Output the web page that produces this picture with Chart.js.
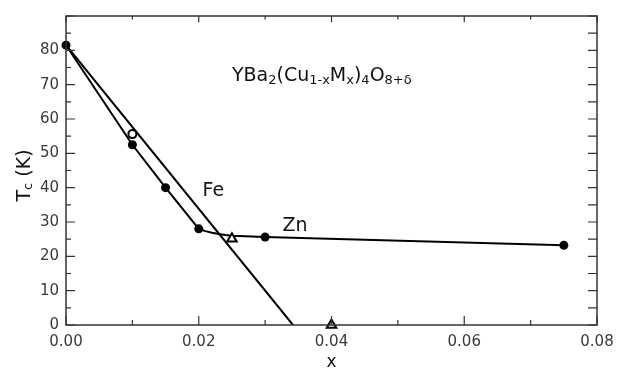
<!DOCTYPE html>
<html><head><meta charset="utf-8">
<script src="https://cdn.jsdelivr.net/npm/chart.js@4"></script>
<style>html,body{margin:0;padding:0;background:#fff}</style>
</head><body>
<canvas id="c" width="623" height="373" style="width:623px;height:373px"></canvas>
<script>
// ---- data ----
const xTickValues = [0, 0.02, 0.04, 0.06, 0.08];
const yTickValues = [0, 10, 20, 30, 40, 50, 60, 70, 80];
const filledX = [0, 0.01, 0.015, 0.02, 0.03, 0.075];
const filledY = [81.5, 52.5, 40, 28, 25.6, 23.2];
const openCircleX = [0.01];
const openCircleY = [55.6];
const triangleX = [0.025, 0.04];
const triangleY = [25.1, 0];
const feLineX = [0, 0.0342];
const feLineY = [81.5, 0];
const znLineX = [0, 0.01, 0.015, 0.02, 0.0205, 0.021, 0.022, 0.023, 0.024, 0.025, 0.03, 0.075];
const znLineY = [81.5, 52.5, 40, 28, 27.65, 27.35, 26.85, 26.5, 26.2, 26.0, 25.6, 23.2];
const seriesLabels = [{t:'Fe', x:0.0222, y:39.5}, {t:'Zn', x:0.0345, y:29.3}];
const formula = [['YBa',0],['2',1],['(Cu',0],['1-x',1],['M',0],['x',1],[')',0],['4',1],['O',0],['8+δ',1]];
const formulaPos = {x:0.0250, y:71.2};

const zip = (xs, ys) => xs.map((x, i) => ({x, y: ys[i]}));
const FONT = '"DejaVu Sans", sans-serif';

const framePlugin = {
  id: 'frame',
  afterDraw(chart) {
    const {ctx, chartArea: a, scales: {x, y}} = chart;
    ctx.save();
    ctx.strokeStyle = '#333';
    ctx.lineWidth = 1.5;
    ctx.strokeRect(a.left, a.top, a.right - a.left, a.bottom - a.top);
    ctx.lineWidth = 1.2;
    ctx.beginPath();
    for (let i = 0; i <= 8; i++) {
      const px = x.getPixelForValue(i * 0.01);
      const L = i % 2 === 0 ? 9 : 5;
      ctx.moveTo(px, a.bottom); ctx.lineTo(px, a.bottom - L);
      ctx.moveTo(px, a.top); ctx.lineTo(px, a.top + L * 0.7);
    }
    for (let v = 0; v <= 90; v += 5) {
      const py = y.getPixelForValue(v);
      const L = v % 10 === 0 ? 9 : 5;
      ctx.moveTo(a.left, py); ctx.lineTo(a.left + L, py);
      ctx.moveTo(a.right, py); ctx.lineTo(a.right - 9, py);
    }
    ctx.stroke();

    // texts
    ctx.fillStyle = '#111';
    ctx.textBaseline = 'alphabetic';
    ctx.font = '19px ' + FONT;
    for (const s of seriesLabels) {
      ctx.textAlign = 'center';
      ctx.fillText(s.t, x.getPixelForValue(s.x), y.getPixelForValue(s.y) + 7);
    }
    ctx.textAlign = 'left';
    let cx = x.getPixelForValue(formulaPos.x);
    const by = y.getPixelForValue(formulaPos.y);
    for (const [t, sub] of formula) {
      ctx.font = (sub ? '13px ' : '19px ') + FONT;
      ctx.fillText(t, cx, by + (sub ? 3 : 0));
      cx += ctx.measureText(t).width;
    }
    // y title
    ctx.save();
    ctx.translate(30, (a.top + a.bottom) / 2 + 5);
    ctx.rotate(-Math.PI / 2);
    ctx.textAlign = 'left';
    const parts = [['T',0],['c',1],[' (K)',0]];
    let w = 0;
    for (const [t, sub] of parts) { ctx.font = (sub ? '13px ' : '19px ') + FONT; w += ctx.measureText(t).width; }
    let tx = -w / 2;
    for (const [t, sub] of parts) {
      ctx.font = (sub ? '13px ' : '19px ') + FONT;
      ctx.fillText(t, tx, sub ? 2 : 0);
      tx += ctx.measureText(t).width;
    }
    ctx.restore();
    // x title
    ctx.font = '17px ' + FONT;
    ctx.textAlign = 'center';
    ctx.fillText('x', (a.left + a.right) / 2, 367);
    ctx.restore();
  }
};

new Chart(document.getElementById('c'), {
  type: 'scatter',
  data: {
    datasets: [
      {label:'filled', data: zip(filledX, filledY), pointStyle:'circle', pointRadius:4.5, backgroundColor:'#000', borderColor:'#000', borderWidth:0, clip:false},
      {label:'open circle', data: zip(openCircleX, openCircleY), pointStyle:'circle', pointRadius:4, backgroundColor:'#fff', borderColor:'#000', borderWidth:2, clip:false},
      {label:'triangle', data: zip(triangleX, triangleY), pointStyle:'triangle', pointRadius:5.5, backgroundColor:'#fff', borderColor:'#000', borderWidth:2, clip:false},
      {label:'Fe fit', data: zip(feLineX, feLineY), showLine:true, pointRadius:0, borderColor:'#000', borderWidth:2},
      {label:'Zn fit', data: zip(znLineX, znLineY), showLine:true, pointRadius:0, borderColor:'#000', borderWidth:2, tension:0}
    ]
  },
  options: {
    responsive: false,
    animation: false,
    devicePixelRatio: 1,
    layout: {padding: {top: 9, right: 26, left: 0, bottom: 0}},
    plugins: {legend: {display:false}, tooltip: {enabled:false}},
    scales: {
      x: {
        type:'linear', min:0, max:0.08,
        grid:{display:false, drawTicks:false}, border:{display:false},
        afterFit(s){ s.height = 48; },
        afterBuildTicks(s){ s.ticks = xTickValues.map(v => ({value:v})); },
        ticks:{padding:8, color:'#3a3a3a', font:{family:'DejaVu Sans', size:15}, maxRotation:0, autoSkip:false,
          callback:(v) => v.toFixed(2)}
      },
      y: {
        type:'linear', min:0, max:90,
        grid:{display:false, drawTicks:false}, border:{display:false},
        afterFit(s){ s.width = 66; },
        afterBuildTicks(s){ s.ticks = yTickValues.map(v => ({value:v})); },
        ticks:{padding:7, color:'#3a3a3a', font:{family:'DejaVu Sans', size:15}, autoSkip:false,
          callback:(v) => String(v)}
      }
    }
  },
  plugins: [framePlugin]
});
</script>
</body></html>
